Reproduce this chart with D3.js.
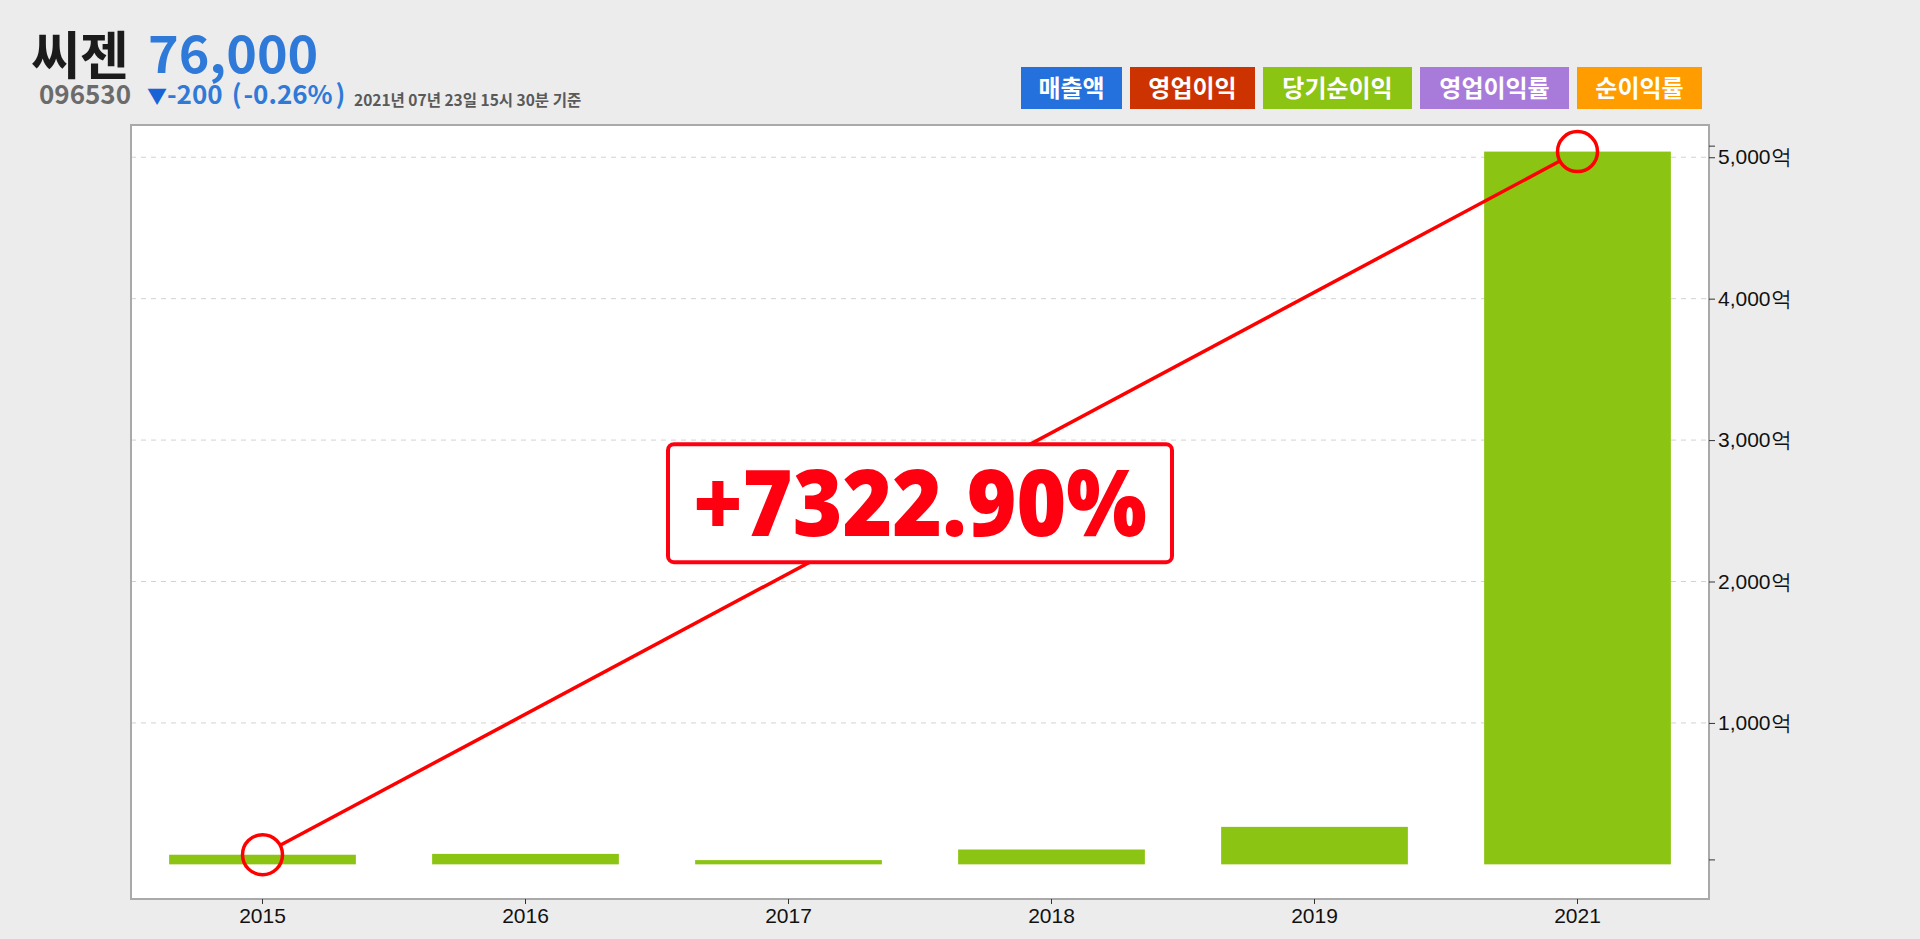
<!DOCTYPE html>
<html>
<head>
<meta charset="utf-8">
<style>
    body { margin: 0; background: #ececec; }
    svg { display: block; }
    .axis text { font-family: "Liberation Sans", Arial, sans-serif; font-size: 21px; fill: #111; }
    .axis .domain { display: none; }
    .axis line { stroke: #333; }
    .head { font-family: "Noto Sans CJK KR", sans-serif; font-weight: bold; }
</style>
</head>
<body>
<svg width="1920" height="939"></svg>

<script src="https://d3js.org/d3.v7.min.js"></script>
<script>
    // chart data
    let years = ["2015", "2016", "2017", "2018", "2019", "2021"]
    let netIncome = [68, 74, 30, 105, 265, 5040]   // 당기순이익, 억 원
    let yTicks = [1000, 2000, 3000, 4000, 5000]
    let yMinorTicks = [35, 5082]
    let legendNames = ["매출액", "영업이익", "당기순이익", "영업이익률", "순이익률"]
    let legendColors = ["#2470dd", "#cc3300", "#8bc412", "#a87bdb", "#ff9c00"]
    let growthLabel = "+7322.90%"

    let svg = d3.select("svg")
    let margin = { top: 125, right: 211, bottom: 40, left: 131 }
    let width = 1920, height = 939

    // header
    svg.append("text").attr("class", "head")
        .attr("x", 31).attr("y", 75)
        .style("font-size", "52px").style("fill", "#1b1b1b")
        .attr("textLength", 98).attr("lengthAdjust", "spacingAndGlyphs")
        .text("씨젠")
    svg.append("text").attr("class", "head")
        .attr("x", 148).attr("y", 73)
        .style("font-size", "52px").style("fill", "#2f7ad8")
        .text("76,000")
    svg.append("text").attr("class", "head")
        .attr("x", 39).attr("y", 104)
        .style("font-size", "26px").style("fill", "#6b6b6b")
        .text("096530")
    let chg = svg.append("text").attr("class", "head")
        .attr("x", 147).attr("y", 104)
        .style("font-size", "26px").style("fill", "#2f7ad8")
    chg.append("tspan").style("fill", "#1a63d6").style("font-size", "20px").text("▼")
    chg.append("tspan").text("-200")
    chg.append("tspan").attr("dx", 9).text("(")
    chg.append("tspan").attr("dx", 2).text("-0.26%")
    chg.append("tspan").attr("dx", 3).text(")")
    svg.append("text").attr("class", "head")
        .attr("x", 354).attr("y", 106)
        .style("font-size", "15.5px").style("fill", "#595959")
        .text("2021년 07년 23일 15시 30분 기준")

    // legend buttons
    let lx = 1021
    legendNames.forEach(function (name, i) {
        let w = name.length * 24 + 29
        svg.append("rect")
            .attr("x", lx).attr("y", 67)
            .attr("width", w).attr("height", 42)
            .style("fill", legendColors[i])
        svg.append("text").attr("class", "head")
            .attr("x", lx + w / 2).attr("y", 97)
            .style("font-size", "24px").style("fill", "white")
            .style("text-anchor", "middle")
            .text(name)
        lx += w + 8
    })

    // plot area
    let x = d3.scaleBand()
        .domain(years)
        .range([margin.left, width - margin.right])
        .paddingInner(0.29)
        .paddingOuter(0.145)

    let y = d3.scaleLinear()
        .domain([-245, 5228])
        .range([height - margin.bottom, margin.top])

    svg.append("rect")
        .attr("x", margin.left).attr("y", margin.top)
        .attr("width", width - margin.right - margin.left)
        .attr("height", height - margin.bottom - margin.top)
        .style("fill", "white")

    // dashed grid
    svg.append("g")
        .selectAll("line")
        .data(yTicks)
        .join("line")
        .attr("x1", margin.left).attr("x2", width - margin.right)
        .attr("y1", d => y(d)).attr("y2", d => y(d))
        .style("stroke", "#d2d2d2")
        .style("stroke-dasharray", "5,5")

    // bars
    svg.append("g")
        .selectAll("rect")
        .data(years)
        .join("rect")
        .attr("x", d => x(d))
        .attr("width", x.bandwidth())
        .attr("y", (d, i) => y(Math.max(0, netIncome[i])))
        .attr("height", (d, i) => Math.abs(y(netIncome[i]) - y(0)))
        .style("fill", "#8bc412")

    // frame
    svg.append("rect")
        .attr("x", margin.left).attr("y", margin.top)
        .attr("width", width - margin.right - margin.left)
        .attr("height", height - margin.bottom - margin.top)
        .style("fill", "none")
        .style("stroke", "#a9a9a9")
        .style("stroke-width", 2)

    // axes
    svg.append("g")
        .attr("class", "x axis")
        .attr("transform", `translate(0,${height - margin.bottom})`)
        .call(d3.axisBottom(x).tickSize(5).tickPadding(4).tickSizeOuter(0))

    svg.append("g")
        .attr("class", "y axis")
        .attr("transform", `translate(${width - margin.right},0)`)
        .call(d3.axisRight(y).tickValues(yTicks).tickSize(6).tickPadding(3)
            .tickFormat(d => d3.format(",")(d) + "억"))

    svg.append("g")
        .attr("class", "y axis")
        .attr("transform", `translate(${width - margin.right},0)`)
        .call(d3.axisRight(y).tickValues(yMinorTicks).tickSize(6).tickFormat(""))

    // growth line between first and last year
    let first = 0, last = years.length - 1
    let p1 = [x(years[first]) + x.bandwidth() / 2, y(netIncome[first])]
    let p2 = [x(years[last]) + x.bandwidth() / 2, y(netIncome[last])]
    let r = 20
    let dx = p2[0] - p1[0], dy = p2[1] - p1[1]
    let len = Math.sqrt(dx * dx + dy * dy)
    let ux = dx / len, uy = dy / len

    svg.append("line")
        .attr("x1", p1[0] + ux * r).attr("y1", p1[1] + uy * r)
        .attr("x2", p2[0] - ux * r).attr("y2", p2[1] - uy * r)
        .style("stroke", "#ff0000")
        .style("stroke-width", 3.5)

    svg.append("g")
        .selectAll("circle")
        .data([p1, p2])
        .join("circle")
        .attr("cx", d => d[0]).attr("cy", d => d[1])
        .attr("r", r)
        .style("fill", "none")
        .style("stroke", "#ff0000")
        .style("stroke-width", 3.5)

    // percentage label box
    let mx = (p1[0] + p2[0]) / 2, my = (p1[1] + p2[1]) / 2
    svg.append("rect")
        .attr("x", mx - 252).attr("y", my - 59)
        .attr("width", 504).attr("height", 118)
        .attr("rx", 6)
        .style("fill", "white")
        .style("stroke", "#ff0010")
        .style("stroke-width", 4)

    svg.append("text")
        .attr("x", mx).attr("y", my + 33)
        .style("font-family", "'Open Sans', sans-serif")
        .style("font-weight", "800")
        .style("font-size", "92px")
        .style("fill", "#ff0010")
        .style("text-anchor", "middle")
        .attr("textLength", 454)
        .attr("lengthAdjust", "spacingAndGlyphs")
        .text(growthLabel)
</script>
</body>
</html>
